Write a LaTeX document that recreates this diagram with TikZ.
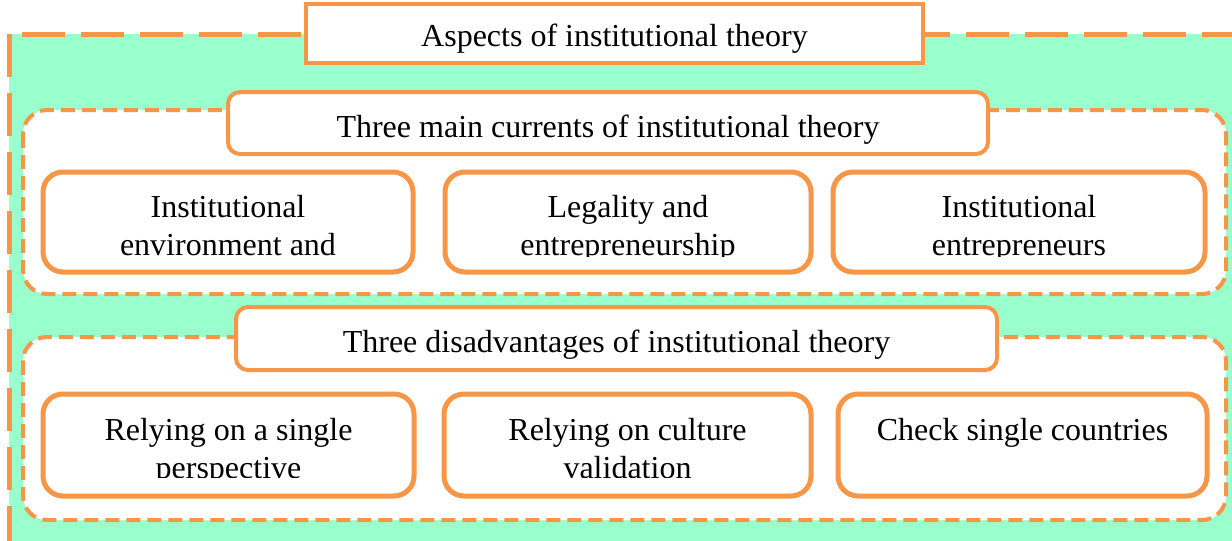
\documentclass[tikz,border=0pt]{standalone}
\usepackage{fontspec}
\setmainfont{Liberation Serif}
\usetikzlibrary{positioning}

\definecolor{frameorange}{RGB}{247,150,70}
\definecolor{mint}{RGB}{153,255,204}

\begin{document}
\begin{tikzpicture}[x=0.5pt, y=-0.5pt,
	outerframe/.style={draw=frameorange, line width=2.5pt,
		dash pattern=on 21.5pt off 8pt, fill=mint},
	groupframe/.style={draw=frameorange, line width=2pt,
		dash pattern=on 7pt off 3.5pt, fill=white, rounded corners=12pt},
	headbox/.style={draw=frameorange, line width=2pt, fill=white,
		inner sep=0pt},
	itembox/.style={draw=frameorange, line width=2.5pt, fill=white,
		rounded corners=10pt, inner sep=0pt},
	boxtext/.style={font=\fontsize{16}{19}\selectfont, align=center,
		inner sep=0pt}]

\useasboundingbox (0,0) rectangle (1232,541);
\clip (0,0) rectangle (1232,541);

% mint background with the long dashed border
\draw [outerframe] (9,34) rectangle (1300,600);

% the two dashed groups
\draw [groupframe] (23,110) rectangle (1226,294);
\draw [groupframe] (23,337) rectangle (1226,520);

% headings
\node [headbox, minimum width=308.5pt, minimum height=29.5pt]
	(aspects) at (614.5,33.5) {};
\node [headbox, rounded corners=6pt, minimum width=380pt, minimum height=31pt]
	(currents) at (608,123) {};
\node [headbox, rounded corners=6pt, minimum width=380.5pt, minimum height=31.5pt]
	(disadv) at (616.5,338.5) {};

\node [boxtext, anchor=base] (aspectstext) at (614.5,46)
	{Aspects of institutional theory};
\node [boxtext, anchor=base] (currentstext) at (608,137)
	{Three main currents of institutional theory};
\node [boxtext, anchor=base] (disadvtext) at (616.5,352)
	{Three disadvantages of institutional theory};

% first row
\node [itembox, minimum width=185pt, minimum height=50pt]
	(environment) at (228,222) {};
\node [itembox, minimum width=183pt, minimum height=50pt]
	(legality) at (628,222) {};
\node [itembox, minimum width=186pt, minimum height=50pt]
	(entrepreneurs) at (1019,222) {};

% second row
\node [itembox, minimum width=185.5pt, minimum height=51pt]
	(single) at (228.5,445) {};
\node [itembox, minimum width=183.5pt, minimum height=51pt]
	(culture) at (627.5,445) {};
\node [itembox, minimum width=184.5pt, minimum height=51pt]
	(countries) at (1022.5,445) {};

% box texts, cut off at the second line
\begin{scope}
	\clip (0,150) rectangle (1232,256);
	\node [boxtext, below=12.5pt of environment.north] (environmenttext)
		{Institutional\\environment and};
	\node [boxtext, below=12.5pt of legality.north] (legalitytext)
		{Legality and\\entrepreneurship};
	\node [boxtext, below=12.5pt of entrepreneurs.north] (entrepreneurstext)
		{Institutional\\entrepreneurs};
\end{scope}

\begin{scope}
	\clip (0,380) rectangle (1232,477);
	\node [boxtext, below=13pt of single.north] (singletext)
		{Relying on a single\\perspective};
	\node [boxtext, below=13pt of culture.north] (culturetext)
		{Relying on culture\\validation};
	\node [boxtext, below=13pt of countries.north] (countriestext)
		{Check single countries};
\end{scope}

\end{tikzpicture}
\end{document}
